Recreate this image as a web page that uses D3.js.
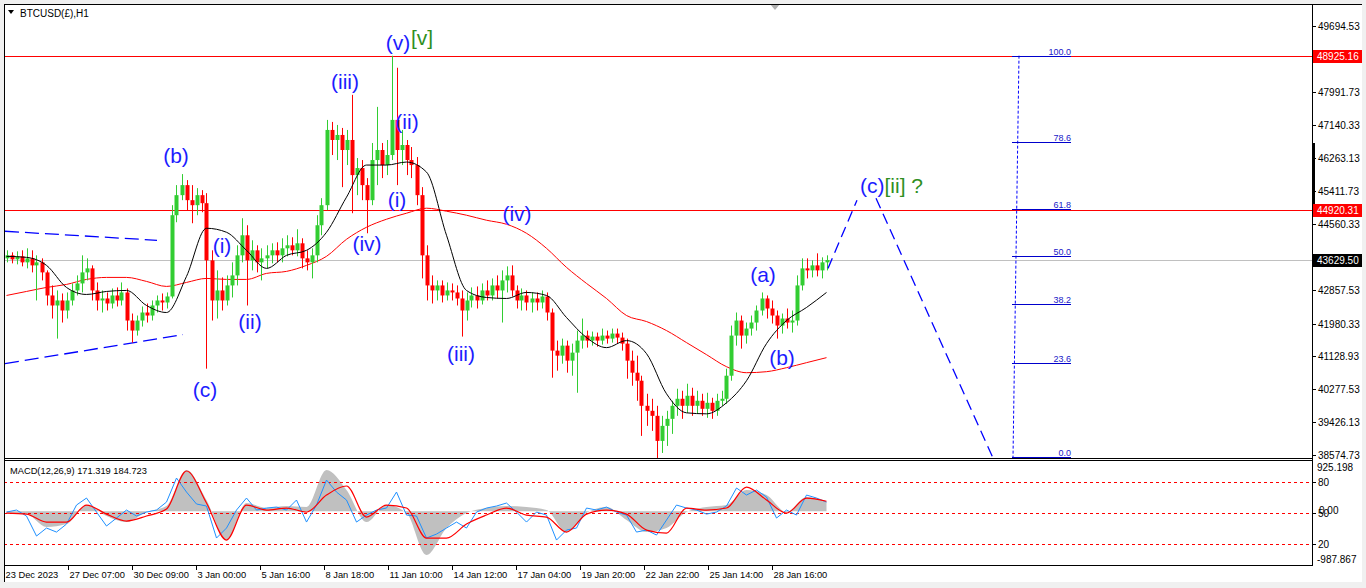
<!DOCTYPE html>
<html><head><meta charset="utf-8">
<script src="https://cdn.jsdelivr.net/npm/d3@7"></script>
<style>html,body{margin:0;padding:0;background:#f0f0f0;}svg{display:block;}</style>
</head><body><svg id="c" width="1366" height="588"></svg>
<script>
// ---------- DATA ----------
// each drawn candle aggregates 5 H1 bars
const candleOpen=[43672,43750,43646,43724,43568,43672,43490,43568,43308,42710,42450,42580,42320,42580,42840,43022,43308,43412,42840,42580,42632,42502,42710,42580,42788,42060,41800,42060,42268,42190,42450,42580,42528,42684,44790,45310,45570,45180,45050,45310,45102,43620,42580,42840,42580,42970,43230,43750,44270,43620,43880,43568,43672,43750,43880,43750,43932,44010,43880,44062,43672,43568,43750,44530,45050,47000,46740,46870,46480,46740,45830,46012,45570,45180,46220,46480,46090,46350,47260,46480,46610,46220,46090,45310,43750,42970,42840,42970,42710,42840,42788,42632,42320,42580,42710,42580,42840,42710,42970,42840,43100,43230,42840,42580,42710,42528,42632,42528,42684,42268,41280,41150,41410,41020,41228,41540,41670,41540,41644,41540,41670,41592,41722,41618,41462,41020,40708,40500,39850,39720,39590,38940,39330,39512,39850,40032,39850,40110,39850,39980,39772,39928,39720,39980,40032,40630,41670,42060,41670,41852,42008,42320,42632,42372,42190,41930,42112,42008,42060,42970,43412,43360,43490,43360,43568];
const candleHigh=[43880,43828,43854,43880,43932,43880,43750,43672,43360,42970,42840,42762,42788,43022,43230,43750,43672,43490,43048,42840,42788,42892,42918,43048,42892,42242,42190,42424,42502,42580,42710,42762,42788,45050,45570,45856,45700,45570,45492,45440,45362,43880,43360,43178,43230,43568,44010,44712,44530,44140,44010,43932,44010,44062,44088,44192,44270,44218,44426,44192,43880,43932,44790,45232,47260,47208,47130,47052,47000,47910,46272,46220,45752,46662,47598,46662,46740,48924,48612,47000,46740,46558,46298,45518,44010,43230,43100,43100,43048,43022,42970,42840,42788,42918,42944,43022,43100,43152,43230,43360,43464,43490,42970,42892,42840,42788,42788,42840,42788,42372,41540,41592,41540,41462,41800,42112,41800,41774,41748,41852,41800,41852,41852,41748,41592,41280,41150,40630,40162,40032,39850,39590,39720,39980,40292,40240,40422,40318,40240,40162,40188,40058,40162,40240,40812,41930,42268,42190,42008,42190,42450,42788,42710,42580,42320,42242,42372,42320,43230,43672,43672,43620,43802,43698,43750];
const candleLow=[43568,43542,43516,43464,43412,43308,42580,43100,42450,42112,41592,42008,42112,42450,42710,42788,43100,42580,42320,42268,42320,42372,42424,42450,41800,41488,41670,41904,42008,42060,42268,42320,42372,42632,44608,45180,44920,44582,44790,44868,40812,42060,42112,42320,42450,42658,42970,43568,42450,43360,43308,43100,43412,43542,43568,43568,43724,43750,43724,43412,43360,43152,43568,44270,44920,46350,46220,45518,46090,44842,45310,45180,44322,45050,45570,45752,45830,46220,45570,46090,45830,45752,45050,43152,42580,42502,42580,42528,42580,42580,42450,41644,42060,42398,42372,42476,42580,42580,42632,42008,42788,42684,42372,42320,42320,42268,42320,42372,42060,40578,40760,40942,40708,40630,40188,41332,41358,41410,41384,41436,41462,41488,41462,41280,40552,40370,39980,39070,39330,39200,38498,38628,38810,39122,39590,39512,39668,39590,39642,39590,39538,39512,39590,39850,39902,40500,41410,41332,41462,41670,41800,42190,42112,41982,41592,41722,41852,41748,41930,42840,43152,43178,43204,43152,43360];
const candleClose=[43750,43646,43724,43568,43672,43490,43568,43308,42710,42450,42580,42320,42580,42840,43022,43308,43412,42840,42580,42632,42502,42710,42580,42788,42060,41800,42060,42268,42190,42450,42580,42528,42684,44790,45310,45570,45180,45050,45310,45102,43620,42580,42840,42580,42970,43230,43750,44270,43620,43880,43568,43672,43750,43880,43750,43932,44010,43880,44062,43672,43568,43750,44530,45050,47000,46740,46870,46480,46740,45830,46012,45570,45180,46220,46480,46090,46350,47260,46480,46610,46220,46090,45310,43750,42970,42840,42970,42710,42840,42788,42632,42320,42580,42710,42580,42840,42710,42970,42840,43100,43230,42840,42580,42710,42528,42632,42528,42684,42268,41280,41150,41410,41020,41228,41540,41670,41540,41644,41540,41670,41592,41722,41618,41462,41020,40708,40500,39850,39720,39590,38940,39330,39512,39850,40032,39850,40110,39850,39980,39772,39928,39720,39980,40032,40630,41670,42060,41670,41852,42008,42320,42632,42372,42190,41930,42112,42008,42060,42970,43412,43360,43490,43360,43568,43629.5];
// moving averages, one value every 4 drawn candles
const maFast=[43724,43698,43490,42918,42736,42814,42840,42450,42268,43204,44452,44348,43880,43412,43750,43880,44348,45258,46090,46090,46168,45908,44270,42840,42658,42632,42788,42710,42138,41618,41358,41540,41202,40162,39668,39642,39928,40500,41462,42060,42398,42788];
const maSlow=[42710,42814,42918,42996,43126,43178,43178,43074,42944,43048,43152,43126,43126,43282,43334,43490,43724,44166,44478,44686,44842,44972,44894,44790,44660,44556,44322,43932,43438,43022,42632,42190,42034,41800,41488,41176,40864,40708,40734,40838,40968,41098];
// MACD panel
const macdMain=[-32,-51,-290,-235,115,-87,-198,-14,97,759,207,-529,152,60,97,78,759,391,-198,115,-32,-805,-308,-32,60,97,78,23,-382,-32,78,-161,-382,-308,-14,78,115,391,299,-14,262,171];
const macdSignal=[-32,-51,-198,-198,115,-51,-179,-87,41,741,152,-529,115,23,60,-14,299,465,-106,115,60,-492,-492,-235,-69,60,-69,-106,-382,-51,23,-51,-345,-400,60,23,60,446,207,-32,244,185];
const macdFast=[-14,23,-87,-455,-308,-382,-235,115,244,-14,-271,-124,23,-87,-14,23,170,612,354,134,97,-492,-308,23,244,23,60,78,23,207,-198,115,575,354,207,-198,-69,23,60,354,-69,-87,-492,-419,-308,-198,-308,-14,60,97,152,-14,-198,-14,-69,-529,-345,-308,60,23,78,-14,-69,-382,-345,-437,-161,115,60,23,-51,-14,97,428,299,391,262,-124,23,-69,299,244,170];
const macdHeader=[171.319,184.723];
const macdRange=[-987.867,925.198];
const macdLevels=[80,50,20];
// axes
const timeLabels=["23 Dec 2023","27 Dec 07:00","30 Dec 09:00","3 Jan 00:00","5 Jan 16:00","8 Jan 18:00","11 Jan 10:00","14 Jan 12:00","17 Jan 04:00","19 Jan 20:00","22 Jan 22:00","25 Jan 14:00","28 Jan 16:00"];
const priceTicks=[49694.53,48843.13,47991.73,47140.33,46263.13,45411.73,44560.33,43708.93,42857.53,41980.33,41128.93,40277.53,39426.13,38574.73];
const redLevels=[48925.16,44920.31];
const lastPrice=43629.50;
// annotations (bar index, price)
const fibHigh=48925.16, fibLow=38515;
const fibLevels=[0,23.6,38.2,50,61.8,78.6,100];
const triangleUpper=[[1,44374],[153,44140]];
const triangleLower=[[1,40942],[179,41696]];
const projectionUp=[[824,43412],[853,45180]];
const projectionDown=[[872,45232],[989,38498]];
const waveLabels=[
 {t:"(v)",b:394,p:49080},{t:"(iii)",b:341,p:48066},{t:"(ii)",b:403,p:47026},{t:"(i)",b:393,p:45000},
 {t:"(iv)",b:363,p:43854},{t:"(b)",b:172,p:46142},{t:"(i)",b:218,p:43802},{t:"(ii)",b:246,p:41852},
 {t:"(c)",b:201,p:40084},{t:"(iii)",b:457,p:41020},{t:"(iv)",b:513,p:44634},{t:"(a)",b:759,p:43048},
 {t:"(b)",b:778,p:40916}];

// ---------- DRAW ----------
const svg=d3.select("#c");
const L=4,R=1312,T=4,MB=458,ST=461,SB=565;
const x=d3.scaleLinear().domain([0,1308]).range([L,R]);
const y=d3.scaleLinear().domain([38574.73,49694.53]).range([455,26]);
const ym=d3.scaleLinear().domain(macdRange).range([SB,ST]);
const yl=d3.scaleLinear().domain([0,100]).range([SB,ST]);
const cx=i=>x(5*i+2.5);
const font="'Liberation Sans', Arial, sans-serif";
const GREEN="#32cd32", RED="#ff0000", WAVE="#1c1cff", GRN="#2f8f1f";

svg.append("rect").attr("x",4).attr("y",4).attr("width",1358).attr("height",578).attr("fill","#fff");
const defs=svg.append("defs");
defs.append("clipPath").attr("id","mc").append("rect").attr("x",L).attr("y",T).attr("width",R-L).attr("height",MB-T);
defs.append("clipPath").attr("id","sc").append("rect").attr("x",L).attr("y",ST-1).attr("width",R-L).attr("height",SB-ST+1);

const main=svg.append("g").attr("clip-path","url(#mc)");
main.append("line").attr("x1",L).attr("x2",R).attr("y1",Math.round(y(lastPrice))+0.5).attr("y2",Math.round(y(lastPrice))+0.5).attr("stroke","#c0c0c0");
redLevels.forEach(p=>main.append("line").attr("x1",L).attr("x2",R).attr("y1",Math.round(y(p))+0.5).attr("y2",Math.round(y(p))+0.5).attr("stroke",RED).attr("stroke-width",1.2));
[triangleUpper,triangleLower].forEach(s=>main.append("line").attr("x1",x(s[0][0])).attr("y1",y(s[0][1])).attr("x2",x(s[1][0])).attr("y2",y(s[1][1])).attr("stroke","#0000ff").attr("stroke-width",1.3).attr("stroke-dasharray","14,6"));
const maLine=d3.line().x((d,k)=>cx(4*k)).y(d=>y(d)).curve(d3.curveMonotoneX);
main.append("path").attr("d",maLine(maSlow)).attr("fill","none").attr("stroke",RED).attr("stroke-width",1);
const cg=main.append("g");
candleClose.forEach((c,i)=>{
  const o=candleOpen[i],up=c>=o,col=up?GREEN:RED,xc=Math.round(cx(i))+0.5;
  cg.append("line").attr("x1",xc).attr("x2",xc).attr("y1",y(candleHigh[i])).attr("y2",y(candleLow[i])).attr("stroke",col).attr("stroke-width",1);
  const t=y(Math.max(o,c)),b=y(Math.min(o,c));
  cg.append("rect").attr("x",xc-2).attr("y",t).attr("width",4).attr("height",Math.max(1,b-t)).attr("fill",col);
});
main.append("path").attr("d",maLine(maFast)).attr("fill","none").attr("stroke","#000").attr("stroke-width",1);
[projectionUp,projectionDown].forEach(s=>main.append("line").attr("x1",x(s[0][0])).attr("y1",y(s[0][1])).attr("x2",x(s[1][0])).attr("y2",y(s[1][1])).attr("stroke","#0000ff").attr("stroke-width",1.3).attr("stroke-dasharray","11,6"));
const fibP=lv=>fibLow+(fibHigh-fibLow)*lv/100;
main.append("line").attr("x1",x(1015)).attr("y1",y(fibHigh)).attr("x2",x(1009)).attr("y2",y(fibLow)).attr("stroke","#0000ff").attr("stroke-dasharray","3,2");
fibLevels.forEach(lv=>{
  const yy=Math.round(y(fibP(lv)))+0.5;
  main.append("line").attr("x1",x(1008)).attr("x2",x(1067)).attr("y1",yy).attr("y2",yy).attr("stroke","#0000cc").attr("stroke-width",1.2);
  main.append("text").attr("x",x(1067)).attr("y",yy-2).attr("text-anchor","end").attr("font-family",font).attr("font-size",9).attr("fill","#2020c8").text(lv.toFixed(1));
});
waveLabels.forEach(d=>main.append("text").attr("x",x(d.b)).attr("y",y(d.p)).attr("text-anchor","middle").attr("font-family",font).attr("font-size",21).attr("fill",WAVE).text(d.t));
main.append("text").attr("x",x(407)).attr("y",y(49210)).attr("font-family",font).attr("font-size",21).attr("fill",GRN).text("[v]");
const cl=main.append("text").attr("x",x(856)).attr("y",y(45362)).attr("font-family",font).attr("font-size",21);
cl.append("tspan").attr("fill",WAVE).text("(c)");
cl.append("tspan").attr("fill",GRN).text("[ii] ?");
svg.append("path").attr("d","M8,10 L14,10 L11,14 Z").attr("fill","#000");
svg.append("text").attr("x",20).attr("y",17).attr("font-family",font).attr("font-size",10).attr("fill","#000").text("BTCUSD(£),H1");
svg.append("path").attr("d","M770,4 L780,4 L775,10 Z").attr("fill","#b0b0b0");

// ---------- MACD panel ----------
const sub=svg.append("g").attr("clip-path","url(#sc)");
const area=d3.area().x((d,k)=>cx(4*k)).y0(ym(0)).y1(d=>ym(d)).curve(d3.curveMonotoneX);
sub.append("path").attr("d",area(macdMain)).attr("fill","#c0c0c0");
macdLevels.forEach(l=>sub.append("line").attr("x1",L).attr("x2",R).attr("y1",Math.round(yl(l))+0.5).attr("y2",Math.round(yl(l))+0.5).attr("stroke",RED).attr("stroke-dasharray","3,3"));
sub.append("path").attr("d",d3.line().x((d,k)=>cx(2*k)).y(d=>ym(d))(macdFast)).attr("fill","none").attr("stroke","#1e90ff").attr("stroke-width",1);
sub.append("path").attr("d",d3.line().x((d,k)=>cx(4*k)).y(d=>ym(d)).curve(d3.curveMonotoneX)(macdSignal)).attr("fill","none").attr("stroke",RED).attr("stroke-width",1.2);
svg.append("text").attr("x",10).attr("y",474).attr("font-family",font).attr("font-size",9.3).attr("fill","#000").text("MACD(12,26,9) "+macdHeader[0].toFixed(3)+" "+macdHeader[1].toFixed(3));

// ---------- frames & axes ----------
const fr=svg.append("g").attr("stroke","#000").attr("stroke-width",1).attr("shape-rendering","crispEdges");
fr.append("line").attr("x1",4.5).attr("x2",4.5).attr("y1",4).attr("y2",582);
fr.append("line").attr("x1",4).attr("x2",1362).attr("y1",4.5).attr("y2",4.5);
fr.append("line").attr("x1",R+0.5).attr("x2",R+0.5).attr("y1",4).attr("y2",SB+1);
fr.append("line").attr("x1",L).attr("x2",R).attr("y1",MB+0.5).attr("y2",MB+0.5);
fr.append("line").attr("x1",L).attr("x2",R).attr("y1",ST-0.5).attr("y2",ST-0.5);
fr.append("line").attr("x1",L).attr("x2",R).attr("y1",SB+0.5).attr("y2",SB+0.5);
svg.append("rect").attr("x",R).attr("y",143).attr("width",3).attr("height",74).attr("fill","#000");

const ay=svg.append("g").attr("font-family",font).attr("font-size",10).attr("fill","#000");
const hidden=p=>redLevels.concat([lastPrice]).some(q=>Math.abs(y(q)-y(p))<8);
priceTicks.forEach(p=>{
  const yy=Math.round(y(p))+0.5;
  ay.append("line").attr("x1",R).attr("x2",R+4).attr("y1",yy).attr("y2",yy).attr("stroke","#000");
  if(!hidden(p)) ay.append("text").attr("x",R+6).attr("y",yy+3.5).text(p.toFixed(2));
});
function priceBox(p,bg){
  const yy=Math.round(y(p));
  svg.append("rect").attr("x",R+1).attr("y",yy-6).attr("width",49).attr("height",13).attr("fill",bg);
  svg.append("text").attr("x",R+5).attr("y",yy+4).attr("font-family",font).attr("font-size",10).attr("fill","#fff").text(p.toFixed(2));
}
redLevels.forEach(p=>priceBox(p,RED));
priceBox(lastPrice,"#000");
ay.append("text").attr("x",R+5).attr("y",ST+9.5).text(macdRange[1].toFixed(3));
ay.append("text").attr("x",R+5).attr("y",SB-2.5).text(macdRange[0].toFixed(3));
macdLevels.forEach(l=>{
  const yy=Math.round(yl(l))+0.5;
  ay.append("line").attr("x1",R).attr("x2",R+4).attr("y1",yy).attr("y2",yy).attr("stroke","#000");
  ay.append("text").attr("x",R+6).attr("y",yy+3.5).text(l);
});
ay.append("text").attr("x",R+7).attr("y",Math.round(ym(0))+2.5).text("0.00");
timeLabels.forEach((t,k)=>{
  const xx=Math.round(x(64*k))+0.5;
  svg.append("line").attr("x1",xx).attr("x2",xx).attr("y1",SB).attr("y2",SB+5).attr("stroke","#000");
  svg.append("text").attr("x",xx+1).attr("y",578).attr("font-family",font).attr("font-size",9.3).attr("fill","#000").text(t);
});
</script></body></html>
